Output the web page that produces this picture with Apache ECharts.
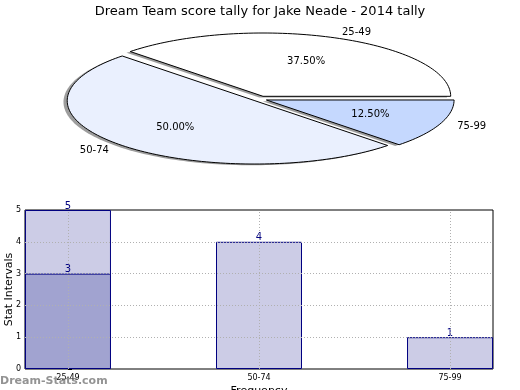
<!DOCTYPE html>
<html><head><meta charset="utf-8">
<script src="https://cdn.jsdelivr.net/npm/echarts@6/dist/echarts.min.js"></script>
<style>html,body{margin:0;padding:0;background:#fff}#c{width:520px;height:390px}</style>
</head><body><div id="c"></div>
<script>
const titleText = 'Dream Team score tally for Jake Neade - 2014 tally';
const categories = ['25-49', '50-74', '75-99'];
const pieValues = [3, 4, 1];
const barTotals = [5, 4, 1];
const barLower = [3, null, null];
const yTicks = [0, 1, 2, 3, 4, 5];
const xAxisName = 'Frequency';
const yAxisName = 'Stat Intervals';
const watermark = 'Dream-Stats.com';

// styles
const pieColors = ['#ffffff', '#eaf0fe', '#c5d8fe'];
const explodeOffsets = [[0, 0], [-0.043, -0.070], [0.018, -0.058]];
const shadowOffset = [-0.02, -0.02];
const FONT = '"DejaVu Sans", sans-serif';

const pieSum = pieValues.reduce((a, b) => a + b, 0);
const startAngles = [];
(function () { let acc = 0; pieValues.forEach(v => { startAngles.push(acc / pieSum * 2 * Math.PI); acc += v; }); })();

function renderSlice(params, api) {
  const i = params.dataIndex;
  const v = api.value(1);
  const a0 = startAngles[i];
  const a1 = a0 + v / pieSum * 2 * Math.PI;
  const off = explodeOffsets[i];
  const pts = (ox, oy) => {
    const p = [api.coord([ox, oy])];
    const n = Math.max(8, Math.ceil((a1 - a0) / (Math.PI / 120)));
    for (let k = 0; k <= n; k++) {
      const a = a0 + (a1 - a0) * k / n;
      p.push(api.coord([ox + Math.cos(a), oy + Math.sin(a)]));
    }
    return p;
  };
  const mid = (a0 + a1) / 2;
  const pct = (v / pieSum * 100).toFixed(2) + '%';
  const lp = api.coord([off[0] + 1.1 * Math.cos(mid), off[1] + 1.1 * Math.sin(mid)]);
  const pp = api.coord([off[0] + 0.6 * Math.cos(mid), off[1] + 0.6 * Math.sin(mid)]);
  return {
    type: 'group', children: [
      { type: 'polygon', z2: 1, shape: { points: pts(off[0] + shadowOffset[0], off[1] + shadowOffset[1]) }, style: { fill: 'rgba(60,60,60,0.5)' } },
      { type: 'polygon', z2: 5, shape: { points: pts(off[0], off[1]) }, style: { fill: pieColors[i], stroke: '#000', lineWidth: 1, lineJoin: 'miter' } },
      { type: 'text', z2: 10, style: { text: pct, x: pp[0], y: pp[1], align: 'center', verticalAlign: 'middle', font: '10px ' + FONT, fill: '#000' } },
      { type: 'text', z2: 10, style: { text: categories[i], x: lp[0], y: lp[1], align: Math.cos(mid) > 0 ? 'left' : 'right', verticalAlign: 'middle', font: '10px ' + FONT, fill: '#000' } }
    ]
  };
}

const chart = echarts.init(document.getElementById('c'), null, { renderer: 'canvas' });
const gridLine = { color: '#b0b0b0', type: [1, 2], width: 1 };
chart.setOption({
  animation: false,
  backgroundColor: '#fff',
  textStyle: { fontFamily: FONT },
  title: { text: titleText, left: 'center', top: 0, textStyle: { fontSize: 13, fontWeight: 'normal', color: '#000', fontFamily: FONT } },
  graphic: [{ type: 'text', x: 0, y: 381, style: { text: watermark, font: 'bold 11px ' + FONT, fill: 'rgba(128,128,128,0.85)', verticalAlign: 'middle' }, z: 100 }],
  grid: [
    { left: 25, top: 210, width: 468, height: 159, show: true, borderColor: '#000', borderWidth: 1, backgroundColor: 'transparent', containLabel: false, outerBoundsMode: 'none' },
    { left: 75.3, top: 33, width: 375.4, height: 126.6, show: false, containLabel: false, outerBoundsMode: 'none' }
  ],
  xAxis: [
    {
      type: 'value', gridIndex: 0, min: -0.225, max: 2.225,
      name: xAxisName, nameLocation: 'middle', nameGap: 17, nameMoveOverlap: false,
      nameTextStyle: { fontSize: 11, color: '#000', verticalAlign: 'top' },
      axisLine: { show: false }, splitLine: { show: false },
      axisTick: { show: true, inside: true, length: 3, customValues: categories.map((c, i) => i), lineStyle: { color: '#000' } },
      axisLabel: { fontSize: 8, color: '#000', margin: 5, customValues: categories.map((c, i) => i), formatter: v => categories[Math.round(v)] || '' }
    },
    { type: 'value', gridIndex: 1, min: -1, max: 1, show: false }
  ],
  yAxis: [
    {
      type: 'value', gridIndex: 0, min: yTicks[0], max: yTicks[yTicks.length - 1], interval: 1,
      name: yAxisName, nameLocation: 'middle', nameGap: 10, nameMoveOverlap: false,
      nameTextStyle: { fontSize: 11, color: '#000' },
      axisLine: { show: false }, splitLine: { show: false },
      axisTick: { show: true, inside: true, length: 4, lineStyle: { color: '#000' } },
      axisLabel: { fontSize: 8, color: '#000', margin: 4 }
    },
    { type: 'value', gridIndex: 1, min: -1, max: 1, show: false }
  ],
  series: [
    {
      type: 'bar', xAxisIndex: 0, yAxisIndex: 0, z: 2,
      data: barTotals.map((v, i) => [i, v]), barWidth: 86, barGap: '-100%',
      itemStyle: { color: '#cccce6', borderColor: '#000080', borderWidth: 1 },
      label: { show: true, position: 'top', distance: -1, color: '#000080', fontSize: 10, formatter: p => String(p.value[1]) }
    },
    {
      type: 'bar', xAxisIndex: 0, yAxisIndex: 0, z: 3,
      data: barLower.map((v, i) => [i, v]), barWidth: 86, barGap: '-100%',
      itemStyle: { color: '#a1a3d0', borderColor: '#000080', borderWidth: 1 },
      label: { show: true, position: 'top', distance: -1, color: '#000080', fontSize: 10, formatter: p => String(p.value[1]) }
    },
    {
      type: 'line', xAxisIndex: 0, yAxisIndex: 0, z: 5, data: [], silent: true,
      markLine: {
        silent: true, symbol: 'none', label: { show: false }, lineStyle: gridLine, animation: false,
        data: categories.map((c, i) => ({ xAxis: i })).concat(yTicks.slice(1, -1).map(t => ({ yAxis: t })))
      }
    },
    {
      type: 'custom', xAxisIndex: 1, yAxisIndex: 1, clip: false, silent: true,
      data: pieValues.map((v, i) => [i, v]),
      renderItem: renderSlice
    }
  ]
});
</script></body></html>
